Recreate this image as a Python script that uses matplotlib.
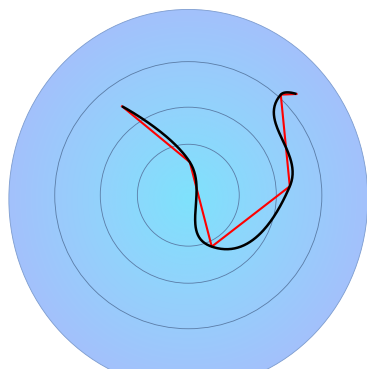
import numpy as np
import matplotlib
matplotlib.use("Agg")
import matplotlib.pyplot as plt
from matplotlib.patches import Circle, Ellipse
from matplotlib.colors import LinearSegmentedColormap

# points: angle in degrees clockwise from north, radius in axis units (outer edge = 10)
angles_deg = [323.3, 2.6, 155.5, 85.0, 42.6, 46.9]
radii = [6.16, 1.84, 3.14, 5.66, 7.59, 8.23]

ring_levels = [2.83, 4.89, 7.42]
r_max = 10.0


def to_xy(ang, r):
    a = np.radians(ang)
    return np.column_stack([np.asarray(r) * np.sin(a), np.asarray(r) * np.cos(a)])


def bezier(p0, c0, c1, p1, n=60):
    t = np.linspace(0, 1, n)[:, None]
    return (1 - t) ** 3 * p0 + 3 * (1 - t) ** 2 * t * c0 + 3 * (1 - t) * t ** 2 * c1 + t ** 3 * p1


def polar_spline(pts, smoothing=1.5):
    # control points set perpendicular to the bisector at each inner point
    n = len(pts)
    left = pts.copy()
    right = pts.copy()
    denom = smoothing + 1
    for i in range(1, n - 1):
        p, a, b = pts[i], pts[i - 1], pts[i + 1]
        lc = (smoothing * p + a) / denom
        rc = (smoothing * p + b) / denom
        dl = np.hypot(*(lc - p))
        dr = np.hypot(*(rc - p))
        la = np.arctan2(lc[1] - p[1], lc[0] - p[0])
        ra = np.arctan2(rc[1] - p[1], rc[0] - p[0])
        j = np.pi / 2 + (la + ra) / 2
        if abs(la - j) > np.pi / 2:
            j -= np.pi
        left[i] = p + dl * np.array([np.cos(j), np.sin(j)])
        right[i] = p + dr * np.array([np.cos(j + np.pi), np.sin(j + np.pi)])
    return np.vstack([bezier(pts[i], right[i], left[i + 1], pts[i + 1]) for i in range(n - 1)])


pts = to_xy(angles_deg, radii)
curve = polar_spline(pts)

W, H = 367, 369
scale = 18.0  # pixels per unit
cx, cy = 188.3, 195.2
half = 10.7
fig = plt.figure(figsize=(W / 100, H / 100), dpi=100)
ax = fig.add_axes([(cx - half * scale) / W, (H - cy - half * scale) / H,
                   2 * half * scale / W, 2 * half * scale / H])
ax.set_xlim(-half, half)
ax.set_ylim(-half, half)
ax.axis("off")

# pane background with radial gradient
rx, ry = r_max * 0.997, r_max * 1.053
oy = -0.21
cmap = LinearSegmentedColormap.from_list("pane", ["#7fe2fc", "#93d2fc", "#a3c1fb"])
gx, gy = np.meshgrid(np.linspace(-rx, rx, 400), np.linspace(-ry, ry, 400))
g = np.clip(np.hypot(gx / rx, gy / ry), 0, 1)
pane = Ellipse((0, oy), 2 * rx, 2 * ry, facecolor="none", edgecolor="#7d9ccf", lw=0.6, zorder=2)
ax.add_patch(pane)
im = ax.imshow(g, extent=[-rx, rx, oy - ry, oy + ry], origin="lower", cmap=cmap, vmin=0, vmax=1,
               interpolation="bilinear", zorder=1)
im.set_clip_path(pane)

for r in ring_levels:
    ax.add_patch(Circle((0, 0), r, fill=False, edgecolor="#5a7ca6", lw=0.6, zorder=3))

ax.plot(pts[:, 0], pts[:, 1], color="#ff0000", lw=1.5, zorder=4)
ax.plot(curve[:, 0], curve[:, 1], color="black", lw=1.8, zorder=5,
        solid_capstyle="butt", solid_joinstyle="round")

fig.savefig("out.png", dpi=100)
